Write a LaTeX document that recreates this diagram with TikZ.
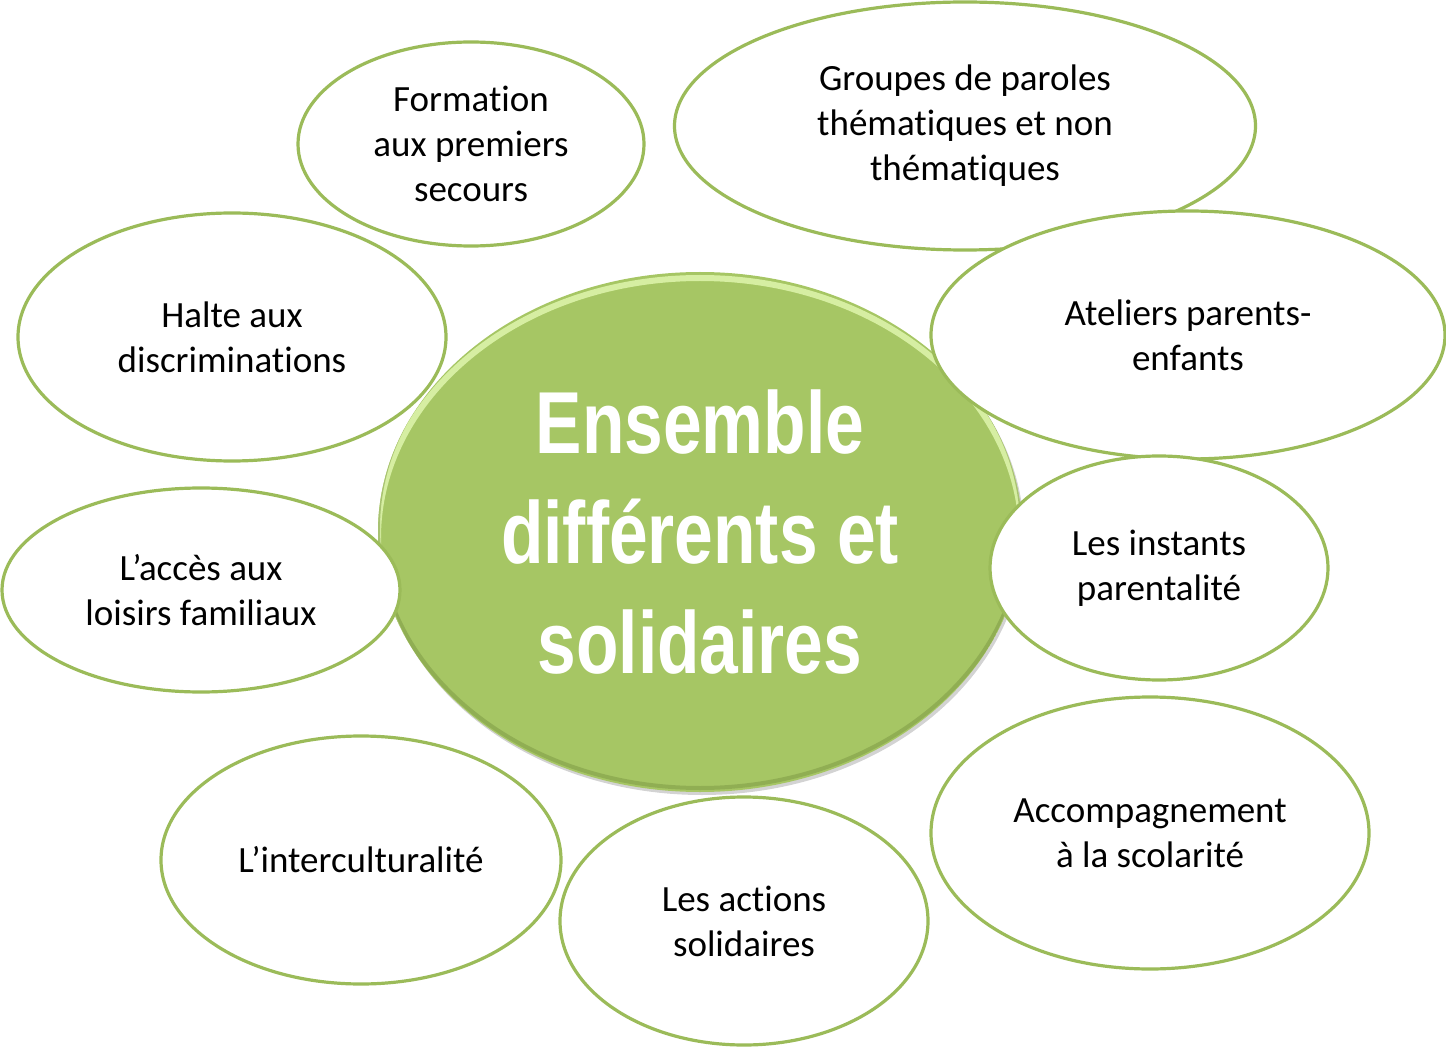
\documentclass[tikz,border=0pt]{standalone}
\usepackage{fontspec}
\setmainfont{Carlito}[Ligatures=NoCommon, RawFeature={-liga;-clig;-calt;-dlig}]
\newfontfamily\headfont[FakeStretch=0.79]{Liberation Sans}
\usetikzlibrary{shapes.geometric, shadows}
\definecolor{rimgreen}{HTML}{9BBB59}
\definecolor{hubgreen}{HTML}{A6C664}
\definecolor{hublight}{HTML}{D6EEA2}
\definecolor{hubdark}{HTML}{7C9843}

\begin{document}
\begin{tikzpicture}[x=1pt, y=1pt,
    hub/.style={ellipse, fill=hubgreen, minimum width=644pt, minimum height=520pt,
      inner sep=0pt, text=white, align=center,
      font=\headfont\bfseries\fontsize{88}{110}\selectfont,
      drop shadow={opacity=0.35, shadow xshift=2pt, shadow yshift=-3pt}},
    topic/.style={ellipse, draw=rimgreen, line width=3.2pt, fill=white, inner sep=0pt,
      align=center, font=\fontsize{37}{45}\selectfont}]
  \useasboundingbox (0,0) rectangle (1446,-1048);

  % The hub, with a light rim on top and a darker one below.
  \node[hub] (hub) at (700,-532) {Ensemble\\différents et\\solidaires};
  \begin{scope}
    \clip (700,-532) ellipse [x radius=322, y radius=260];
    \draw[hublight, line width=6pt] (700,-538) ellipse [x radius=322, y radius=260];
    \draw[hubdark, line width=4pt, opacity=0.5] (700,-528) ellipse [x radius=322, y radius=260];
  \end{scope}

  % The topics round it, white ellipses lying over the hub.
  \node[topic, minimum width=581pt, minimum height=248pt] (paroles) at (965,-126)
    {Groupes de paroles\\thématiques et non\\thématiques};
  \node[topic, minimum width=514pt, minimum height=248pt] (ateliers) at (1188,-335)
    {Ateliers parents-\\enfants};
  \node[topic, minimum width=346pt, minimum height=204pt] (secours) at (471,-144)
    {Formation\\aux premiers\\secours};
  \node[topic, minimum width=428pt, minimum height=248pt] (halte) at (232,-337)
    {Halte aux\\discriminations};
  \node[topic, minimum width=398pt, minimum height=204pt] (loisirs) at (201,-590)
    {L’accès aux\\loisirs familiaux};
  \node[topic, minimum width=338pt, minimum height=224pt] (instants) at (1159,-568)
    {Les instants\\parentalité};
  \node[topic, minimum width=400pt, minimum height=248pt] (intercult) at (361,-860)
    {L’interculturalité};
  \node[topic, minimum width=368pt, minimum height=248pt] (actions) at (744,-921)
    {Les actions\\solidaires};
  \node[topic, minimum width=438pt, minimum height=272pt] (scolarite) at (1150,-833)
    {Accompagnement\\à la scolarité};
\end{tikzpicture}
\end{document}
